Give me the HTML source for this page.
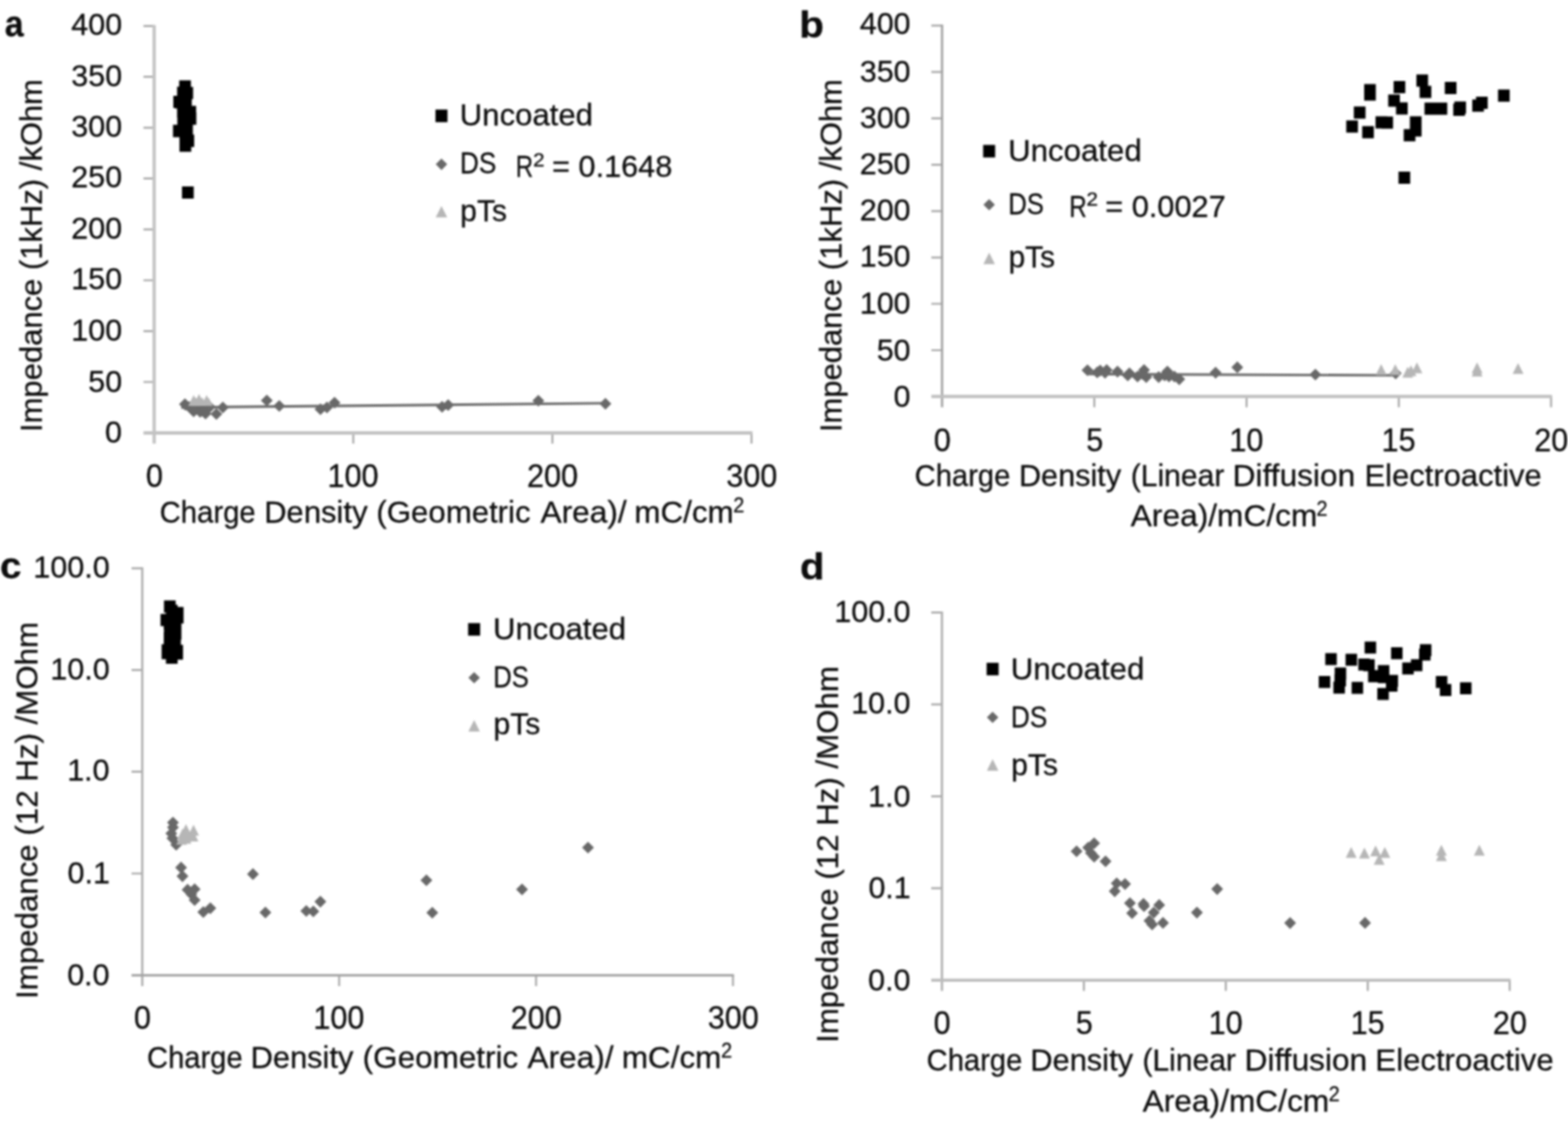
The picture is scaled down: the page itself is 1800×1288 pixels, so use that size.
<!DOCTYPE html>
<html lang="en">
<head>
<meta charset="utf-8">
<title>Impedance versus charge density</title>
<style>
html,body{margin:0;padding:0;background:#fff;}
body{width:1800px;height:1288px;overflow:hidden;}
svg{display:block;}
svg text{font-family:"Liberation Sans",sans-serif;fill:#0c0c0c;stroke:#0c0c0c;stroke-width:0.3px;stroke-linejoin:round;}
</style>
</head>
<body>
<svg width="1800" height="1288" viewBox="0 0 1800 1288">
<rect width="1800" height="1288" fill="#fff"/>
<g id="fig" style="filter:blur(0.95px)">
<g id="panel-a">
<path d="M164.7 29.8H177M164.7 88.19H177M164.7 146.57H177M164.7 204.96H177M164.7 263.35H177M164.7 321.74H177M164.7 380.12H177M164.7 438.51H177M405.57 496.9V509.2M634.13 496.9V509.2M862.7 496.9V509.2" stroke="#a6a6a6" stroke-width="2.2" fill="none"/>
<path d="M177 28.7V509.2" stroke="#c4c4c4" stroke-width="3.8" fill="none"/>
<path d="M164.7 496.9H863.8" stroke="#c2c2c2" stroke-width="4.0" fill="none"/>
<text x="5.59" y="42.2" font-size="42" textLength="21.57" lengthAdjust="spacingAndGlyphs" font-weight="bold">a</text>
<text x="81.75" y="39.8" font-size="35" textLength="58.4" lengthAdjust="spacingAndGlyphs">400</text>
<text x="81.75" y="99.05" font-size="35" textLength="58.4" lengthAdjust="spacingAndGlyphs">350</text>
<text x="81.75" y="157.3" font-size="35" textLength="58.4" lengthAdjust="spacingAndGlyphs">300</text>
<text x="81.75" y="215.3" font-size="35" textLength="58.4" lengthAdjust="spacingAndGlyphs">250</text>
<text x="81.75" y="274.05" font-size="35" textLength="58.4" lengthAdjust="spacingAndGlyphs">200</text>
<text x="81.75" y="332.3" font-size="35" textLength="58.4" lengthAdjust="spacingAndGlyphs">150</text>
<text x="81.75" y="391.05" font-size="35" textLength="58.4" lengthAdjust="spacingAndGlyphs">100</text>
<text x="101.18" y="449.8" font-size="35" textLength="38.93" lengthAdjust="spacingAndGlyphs">50</text>
<text x="120.6" y="508.05" font-size="35" textLength="19.47" lengthAdjust="spacingAndGlyphs">0</text>
<text x="167.56" y="559.1" font-size="36.8" textLength="19.55" lengthAdjust="spacingAndGlyphs">0</text>
<text x="376.01" y="559.1" font-size="36.8" textLength="58.64" lengthAdjust="spacingAndGlyphs">100</text>
<text x="605.01" y="559.1" font-size="36.8" textLength="58.64" lengthAdjust="spacingAndGlyphs">200</text>
<text x="833.75" y="559.1" font-size="36.8" textLength="58.64" lengthAdjust="spacingAndGlyphs">300</text>
<text font-size="35"><tspan x="183.32" y="600" textLength="110.19" lengthAdjust="spacingAndGlyphs">Charge</tspan> <tspan x="303.15" y="600" textLength="118.83" lengthAdjust="spacingAndGlyphs">Density</tspan> <tspan x="432.1" y="600" textLength="177.06" lengthAdjust="spacingAndGlyphs">(Geometric</tspan> <tspan x="620.5" y="600" textLength="98.94" lengthAdjust="spacingAndGlyphs">Area)/</tspan> <tspan x="728.16" y="600" textLength="114.04" lengthAdjust="spacingAndGlyphs">mC/cm</tspan><tspan x="841.86" y="587.6" font-size="23.5" textLength="12.71" lengthAdjust="spacingAndGlyphs">2</tspan></text>
<text transform="translate(48.3 495.9) rotate(-90)" font-size="35.5" textLength="405.13" lengthAdjust="spacingAndGlyphs">Impedance (1kHz) /kOhm</text>
<path d="M499.9 125.8h13.8v14.4h-13.8z" fill="#000"/>
<path d="M506.8 182l6.6 6.6l-6.6 6.6l-6.6 -6.6z" fill="#686868"/>
<path d="M506.8 236.4l6.6 13.2h-13.2z" fill="#b6b6b6"/>
<text x="527.77" y="143.8" font-size="35" textLength="152.88" lengthAdjust="spacingAndGlyphs">Uncoated</text>
<text x="528.05" y="199.3" font-size="35" textLength="41.68" lengthAdjust="spacingAndGlyphs">DS</text>
<text x="528.2" y="253.8" font-size="35" textLength="53.8" lengthAdjust="spacingAndGlyphs">pTs</text>
<text font-size="35"><tspan x="591.98" y="203.2" textLength="20.03" lengthAdjust="spacingAndGlyphs">R</tspan><tspan x="612.03" y="190.9" font-size="22" textLength="13.2" lengthAdjust="spacingAndGlyphs">2</tspan> <tspan x="633.74" y="203.2" textLength="137.98" lengthAdjust="spacingAndGlyphs">= 0.1648</tspan></text>
</g>
<g id="panel-b">
<path d="M1069.15 29.45H1081.45M1069.15 82.67H1081.45M1069.15 135.89H1081.45M1069.15 189.11H1081.45M1069.15 242.32H1081.45M1069.15 295.54H1081.45M1069.15 348.76H1081.45M1069.15 401.98H1081.45M1256.23 455.2V467.5M1431.01 455.2V467.5M1605.78 455.2V467.5M1780.56 455.2V467.5" stroke="#a6a6a6" stroke-width="2.2" fill="none"/>
<path d="M1081.45 28.35V467.5" stroke="#9e9e9e" stroke-width="2.5" fill="none"/>
<path d="M1069.15 455.2H1781.66" stroke="#c0c0c0" stroke-width="3.8" fill="none"/>
<text x="917.48" y="42.6" font-size="42" textLength="28.43" lengthAdjust="spacingAndGlyphs" font-weight="bold">b</text>
<text x="986.95" y="39.3" font-size="35" textLength="58.4" lengthAdjust="spacingAndGlyphs">400</text>
<text x="986.95" y="93.8" font-size="35" textLength="58.4" lengthAdjust="spacingAndGlyphs">350</text>
<text x="986.95" y="146.8" font-size="35" textLength="58.4" lengthAdjust="spacingAndGlyphs">300</text>
<text x="986.95" y="200.05" font-size="35" textLength="58.4" lengthAdjust="spacingAndGlyphs">250</text>
<text x="986.95" y="253.05" font-size="35" textLength="58.4" lengthAdjust="spacingAndGlyphs">200</text>
<text x="986.95" y="306.3" font-size="35" textLength="58.4" lengthAdjust="spacingAndGlyphs">150</text>
<text x="986.95" y="360.05" font-size="35" textLength="58.4" lengthAdjust="spacingAndGlyphs">100</text>
<text x="1006.38" y="414.3" font-size="35" textLength="38.93" lengthAdjust="spacingAndGlyphs">50</text>
<text x="1025.8" y="466.8" font-size="35" textLength="19.47" lengthAdjust="spacingAndGlyphs">0</text>
<text x="1072.01" y="517.6" font-size="36.8" textLength="19.55" lengthAdjust="spacingAndGlyphs">0</text>
<text x="1246.88" y="517.6" font-size="36.8" textLength="19.55" lengthAdjust="spacingAndGlyphs">5</text>
<text x="1411.2" y="517.6" font-size="36.8" textLength="39.09" lengthAdjust="spacingAndGlyphs">10</text>
<text x="1586.06" y="517.6" font-size="36.8" textLength="39.09" lengthAdjust="spacingAndGlyphs">15</text>
<text x="1761.19" y="517.6" font-size="36.8" textLength="39.09" lengthAdjust="spacingAndGlyphs">20</text>
<text font-size="35"><tspan x="1050.08" y="557.5" textLength="109.67" lengthAdjust="spacingAndGlyphs">Charge</tspan> <tspan x="1169.69" y="557.5" textLength="117.3" lengthAdjust="spacingAndGlyphs">Density</tspan> <tspan x="1297.92" y="557.5" textLength="107.7" lengthAdjust="spacingAndGlyphs">(Linear</tspan> <tspan x="1415.1" y="557.5" textLength="140.61" lengthAdjust="spacingAndGlyphs">Diffusion</tspan> <tspan x="1566.41" y="557.5" textLength="203.43" lengthAdjust="spacingAndGlyphs">Electroactive</tspan></text>
<text font-size="35"><tspan x="1298" y="604.2" textLength="214.34" lengthAdjust="spacingAndGlyphs">Area)/mC/cm</tspan><tspan x="1511.36" y="591.8" font-size="23.5" textLength="12.71" lengthAdjust="spacingAndGlyphs">2</tspan></text>
<text transform="translate(966.2 496.1) rotate(-90)" font-size="35.5" textLength="405.34" lengthAdjust="spacingAndGlyphs">Impedance (1kHz) /kOhm</text>
<path d="M1128.6 166.35h13.8v14.4h-13.8z" fill="#000"/>
<path d="M1135.5 228.4l6.6 6.6l-6.6 6.6l-6.6 -6.6z" fill="#686868"/>
<path d="M1135.5 290.1l6.6 13.2h-13.2z" fill="#b6b6b6"/>
<text x="1157.26" y="185" font-size="35" textLength="153.4" lengthAdjust="spacingAndGlyphs">Uncoated</text>
<text x="1157.6" y="246.2" font-size="35" textLength="40.85" lengthAdjust="spacingAndGlyphs">DS</text>
<text x="1157.71" y="307" font-size="35" textLength="53.53" lengthAdjust="spacingAndGlyphs">pTs</text>
<text font-size="35"><tspan x="1227.58" y="248.6" textLength="20.03" lengthAdjust="spacingAndGlyphs">R</tspan><tspan x="1247.39" y="236.3" font-size="22" textLength="13.2" lengthAdjust="spacingAndGlyphs">2</tspan> <tspan x="1268.74" y="248.6" textLength="138.35" lengthAdjust="spacingAndGlyphs">= 0.0027</tspan></text>
</g>
<g id="panel-c">
<path d="M151 652.3H163.3M151 769.12H163.3M151 885.95H163.3M151 1002.77H163.3M389.35 1119.6V1131.9M615.4 1119.6V1131.9M841.45 1119.6V1131.9" stroke="#a6a6a6" stroke-width="2.2" fill="none"/>
<path d="M163.3 651.2V1131.9" stroke="#aaaaaa" stroke-width="2.4" fill="none"/>
<path d="M151 1119.6H842.55" stroke="#a2a2a2" stroke-width="2.6" fill="none"/>
<text x="-0.02" y="663.8" font-size="42" textLength="24.66" lengthAdjust="spacingAndGlyphs" font-weight="bold">c</text>
<text x="38.33" y="662.6" font-size="35" textLength="87.59" lengthAdjust="spacingAndGlyphs">100.0</text>
<text x="57.75" y="779.7" font-size="35" textLength="68.12" lengthAdjust="spacingAndGlyphs">10.0</text>
<text x="77.17" y="896.2" font-size="35" textLength="48.66" lengthAdjust="spacingAndGlyphs">1.0</text>
<text x="77.53" y="1013.5" font-size="35" textLength="48.66" lengthAdjust="spacingAndGlyphs">0.1</text>
<text x="77.17" y="1130.8" font-size="35" textLength="48.66" lengthAdjust="spacingAndGlyphs">0.0</text>
<text x="153.86" y="1181.3" font-size="36.8" textLength="19.55" lengthAdjust="spacingAndGlyphs">0</text>
<text x="359.79" y="1181.3" font-size="36.8" textLength="58.64" lengthAdjust="spacingAndGlyphs">100</text>
<text x="586.28" y="1181.3" font-size="36.8" textLength="58.64" lengthAdjust="spacingAndGlyphs">200</text>
<text x="812.5" y="1181.3" font-size="36.8" textLength="58.64" lengthAdjust="spacingAndGlyphs">300</text>
<text font-size="35"><tspan x="168.83" y="1226.3" textLength="109.67" lengthAdjust="spacingAndGlyphs">Charge</tspan> <tspan x="287.67" y="1226.3" textLength="118.07" lengthAdjust="spacingAndGlyphs">Density</tspan> <tspan x="416.33" y="1226.3" textLength="178.59" lengthAdjust="spacingAndGlyphs">(Geometric</tspan> <tspan x="605.5" y="1226.3" textLength="98.94" lengthAdjust="spacingAndGlyphs">Area)/</tspan> <tspan x="713.65" y="1226.3" textLength="114.56" lengthAdjust="spacingAndGlyphs">mC/cm</tspan><tspan x="827.86" y="1213.9" font-size="23.5" textLength="12.71" lengthAdjust="spacingAndGlyphs">2</tspan></text>
<text transform="translate(42.6 1146.73) rotate(-90)" font-size="35.5" textLength="432.76" lengthAdjust="spacingAndGlyphs">Impedance (12 Hz) /MOhm</text>
<path d="M537.4 715.3h13.8v14.4h-13.8z" fill="#000"/>
<path d="M544.3 771.4l6.6 6.6l-6.6 6.6l-6.6 -6.6z" fill="#686868"/>
<path d="M544.3 826.6l6.6 13.2h-13.2z" fill="#b6b6b6"/>
<text x="566.03" y="734.3" font-size="35" textLength="152.62" lengthAdjust="spacingAndGlyphs">Uncoated</text>
<text x="566.35" y="788.9" font-size="35" textLength="40.85" lengthAdjust="spacingAndGlyphs">DS</text>
<text x="566.45" y="843.3" font-size="35" textLength="53.8" lengthAdjust="spacingAndGlyphs">pTs</text>
</g>
<g id="panel-d">
<path d="M1069 703.2H1081.3M1069 808.7H1081.3M1069 914.2H1081.3M1069 1019.7H1081.3M1244.24 1125.2V1137.5M1407.18 1125.2V1137.5M1570.13 1125.2V1137.5M1733.07 1125.2V1137.5" stroke="#a6a6a6" stroke-width="2.2" fill="none"/>
<path d="M1081.3 702.1V1137.5" stroke="#aaaaaa" stroke-width="2.4" fill="none"/>
<path d="M1069 1125.2H1734.17" stroke="#bcbcbc" stroke-width="3.5" fill="none"/>
<text x="918.16" y="664.8" font-size="42" textLength="28.12" lengthAdjust="spacingAndGlyphs" font-weight="bold">d</text>
<text x="957.73" y="714.35" font-size="35" textLength="87.59" lengthAdjust="spacingAndGlyphs">100.0</text>
<text x="977.15" y="819.35" font-size="35" textLength="68.12" lengthAdjust="spacingAndGlyphs">10.0</text>
<text x="996.58" y="925.6" font-size="35" textLength="48.66" lengthAdjust="spacingAndGlyphs">1.0</text>
<text x="996.92" y="1031.35" font-size="35" textLength="48.66" lengthAdjust="spacingAndGlyphs">0.1</text>
<text x="996.58" y="1137.1" font-size="35" textLength="48.66" lengthAdjust="spacingAndGlyphs">0.0</text>
<text x="1071.86" y="1187.3" font-size="36.8" textLength="19.55" lengthAdjust="spacingAndGlyphs">0</text>
<text x="1234.89" y="1187.3" font-size="36.8" textLength="19.55" lengthAdjust="spacingAndGlyphs">5</text>
<text x="1387.38" y="1187.3" font-size="36.8" textLength="39.09" lengthAdjust="spacingAndGlyphs">10</text>
<text x="1550.41" y="1187.3" font-size="36.8" textLength="39.09" lengthAdjust="spacingAndGlyphs">15</text>
<text x="1713.7" y="1187.3" font-size="36.8" textLength="39.09" lengthAdjust="spacingAndGlyphs">20</text>
<text font-size="35"><tspan x="1063.83" y="1228.5" textLength="109.67" lengthAdjust="spacingAndGlyphs">Charge</tspan> <tspan x="1182.67" y="1228.5" textLength="118.07" lengthAdjust="spacingAndGlyphs">Density</tspan> <tspan x="1311.43" y="1228.5" textLength="107.44" lengthAdjust="spacingAndGlyphs">(Linear</tspan> <tspan x="1428.85" y="1228.5" textLength="140.61" lengthAdjust="spacingAndGlyphs">Diffusion</tspan> <tspan x="1578.89" y="1228.5" textLength="204.71" lengthAdjust="spacingAndGlyphs">Electroactive</tspan></text>
<text font-size="35"><tspan x="1311.75" y="1276.3" textLength="214.09" lengthAdjust="spacingAndGlyphs">Area)/mC/cm</tspan><tspan x="1525.36" y="1263.9" font-size="23.5" textLength="12.71" lengthAdjust="spacingAndGlyphs">2</tspan></text>
<text transform="translate(961.8 1197.33) rotate(-90)" font-size="35.5" textLength="432.66" lengthAdjust="spacingAndGlyphs">Impedance (12 Hz) /MOhm</text>
<path d="M1132.6 760.85h13.8v14.4h-13.8z" fill="#000"/>
<path d="M1139.5 816.9l6.6 6.6l-6.6 6.6l-6.6 -6.6z" fill="#686868"/>
<path d="M1139.5 871.6l6.6 13.2h-13.2z" fill="#b6b6b6"/>
<text x="1160.26" y="780" font-size="35" textLength="153.4" lengthAdjust="spacingAndGlyphs">Uncoated</text>
<text x="1160.55" y="835" font-size="35" textLength="41.68" lengthAdjust="spacingAndGlyphs">DS</text>
<text x="1160.7" y="890" font-size="35" textLength="53.8" lengthAdjust="spacingAndGlyphs">pTs</text>
</g>
<g id="data">
<path d="M1565.98 96.45h13.4v14h-13.4zM1565.98 101.43h13.4v14h-13.4zM1599.83 92.97h13.4v14h-13.4zM1625.97 85.5h13.4v14h-13.4zM1629.7 98.57h13.4v14h-13.4zM1658.57 93.96h13.4v14h-13.4zM1719.67 102.67h13.4v14h-13.4zM1593.61 108.52h13.4v14h-13.4zM1602.57 117.48h13.4v14h-13.4zM1554.16 122.21h13.4v14h-13.4zM1545.45 138.14h13.4v14h-13.4zM1563.74 144.86h13.4v14h-13.4zM1579.05 133.41h13.4v14h-13.4zM1585.77 133.78h13.4v14h-13.4zM1618.5 133.41h13.4v14h-13.4zM1618.5 142.74h13.4v14h-13.4zM1611.41 148.34h13.4v14h-13.4zM1635.3 117.86h13.4v14h-13.4zM1647.99 117.86h13.4v14h-13.4zM1668.28 119.1h13.4v14h-13.4zM1669.52 116.61h13.4v14h-13.4zM1690.06 114.37h13.4v14h-13.4zM1694.41 111.01h13.4v14h-13.4zM1605.43 196.88h13.4v14h-13.4z" fill="#000"/>
<path d="M205.68 92.34h13.5v14.1h-13.5zM205.43 99.81h13.5v14.1h-13.5zM206.05 104.16h13.5v14.1h-13.5zM201.07 110.38h13.5v14.1h-13.5zM204.18 114.12h13.5v14.1h-13.5zM206.67 110.38h13.5v14.1h-13.5zM203.31 99.43h13.5v14.1h-13.5zM208.17 99.68h13.5v14.1h-13.5zM198.96 110.01h13.5v14.1h-13.5zM203.31 120.96h13.5v14.1h-13.5zM211.65 121.58h13.5v14.1h-13.5zM207.92 126.56h13.5v14.1h-13.5zM211.9 129.05h13.5v14.1h-13.5zM203.56 129.05h13.5v14.1h-13.5zM198.58 143.36h13.5v14.1h-13.5zM207.92 142.74h13.5v14.1h-13.5zM206.05 147.72h13.5v14.1h-13.5zM209.41 154.56h13.5v14.1h-13.5zM206.05 160.16h13.5v14.1h-13.5zM208.91 213.92h13.5v14.1h-13.5z" fill="#000"/>
<path d="M1248.37 418.2l6.8 6.8l-6.8 6.8l-6.8 -6.8zM1259.57 420.69l6.8 6.8l-6.8 6.8l-6.8 -6.8zM1262.93 418.58l6.8 6.8l-6.8 6.8l-6.8 -6.8zM1270.4 417.96l6.8 6.8l-6.8 6.8l-6.8 -6.8zM1268.53 421.07l6.8 6.8l-6.8 6.8l-6.8 -6.8zM1282.84 419.82l6.8 6.8l-6.8 6.8l-6.8 -6.8zM1296.53 421.69l6.8 6.8l-6.8 6.8l-6.8 -6.8zM1294.67 424.18l6.8 6.8l-6.8 6.8l-6.8 -6.8zM1305.87 425.42l6.8 6.8l-6.8 6.8l-6.8 -6.8zM1313.33 417.96l6.8 6.8l-6.8 6.8l-6.8 -6.8zM1311.47 422.31l6.8 6.8l-6.8 6.8l-6.8 -6.8zM1315.82 426.04l6.8 6.8l-6.8 6.8l-6.8 -6.8zM1330.13 426.04l6.8 6.8l-6.8 6.8l-6.8 -6.8zM1340.09 419.82l6.8 6.8l-6.8 6.8l-6.8 -6.8zM1341.96 425.42l6.8 6.8l-6.8 6.8l-6.8 -6.8zM1336.98 424.18l6.8 6.8l-6.8 6.8l-6.8 -6.8zM1353.78 428.53l6.8 6.8l-6.8 6.8l-6.8 -6.8zM1348.18 425.42l6.8 6.8l-6.8 6.8l-6.8 -6.8zM1395.47 421.07l6.8 6.8l-6.8 6.8l-6.8 -6.8zM1420.36 414.84l6.8 6.8l-6.8 6.8l-6.8 -6.8zM1510 423.2l6.8 6.8l-6.8 6.8l-6.8 -6.8zM1602.2 421.8l6.8 6.8l-6.8 6.8l-6.8 -6.8z" fill="#686868"/>
<path d="M1248 429.4L1602 430.9" stroke="#6a6a6a" stroke-width="2.9" fill="none"/>
<path d="M1585.51 417.88l6.25 12.5h-12.5zM1601.69 417.88l6.25 12.5h-12.5zM1616 420.99l6.25 12.5h-12.5zM1619.73 419.13l6.25 12.5h-12.5zM1626.58 416.02l6.25 12.5h-12.5zM1695.64 416.02l6.25 12.5h-12.5zM1695.64 419.75l6.25 12.5h-12.5zM1742.68 416.64l6.25 12.5h-12.5z" fill="#b6b6b6"/>
<path d="M212.31 457.29l6.8 6.8l-6.8 6.8l-6.8 -6.8zM222.27 465.38l6.8 6.8l-6.8 6.8l-6.8 -6.8zM229.73 466l6.8 6.8l-6.8 6.8l-6.8 -6.8zM235.96 467.87l6.8 6.8l-6.8 6.8l-6.8 -6.8zM240.93 460.4l6.8 6.8l-6.8 6.8l-6.8 -6.8zM248.4 468.49l6.8 6.8l-6.8 6.8l-6.8 -6.8zM255.87 461.02l6.8 6.8l-6.8 6.8l-6.8 -6.8zM306.27 452.93l6.8 6.8l-6.8 6.8l-6.8 -6.8zM320.58 459.16l6.8 6.8l-6.8 6.8l-6.8 -6.8zM367.87 462.89l6.8 6.8l-6.8 6.8l-6.8 -6.8zM375.33 461.02l6.8 6.8l-6.8 6.8l-6.8 -6.8zM384.04 455.42l6.8 6.8l-6.8 6.8l-6.8 -6.8zM217.29 460.4l6.8 6.8l-6.8 6.8l-6.8 -6.8zM226 461.02l6.8 6.8l-6.8 6.8l-6.8 -6.8zM233.47 461.64l6.8 6.8l-6.8 6.8l-6.8 -6.8zM507.5 460.2l6.8 6.8l-6.8 6.8l-6.8 -6.8zM514.5 458.2l6.8 6.8l-6.8 6.8l-6.8 -6.8zM618 453.2l6.8 6.8l-6.8 6.8l-6.8 -6.8zM695 456.7l6.8 6.8l-6.8 6.8l-6.8 -6.8z" fill="#686868"/>
<path d="M222.27 453.48l6.25 12.5h-12.5zM228.49 452.24l6.25 12.5h-12.5zM237.2 453.48l6.25 12.5h-12.5zM232.22 455.97l6.25 12.5h-12.5zM224.76 455.97l6.25 12.5h-12.5zM239.69 456.59l6.25 12.5h-12.5z" fill="#b6b6b6"/>
<path d="M208 467.7L695 462.9" stroke="#6a6a6a" stroke-width="2.9" fill="none"/>
<path d="M1566.53 736.51h13.2v13.8h-13.2zM1596.89 742.98h13.2v13.8h-13.2zM1630 739.49h13.2v13.8h-13.2zM1629 744.47h13.2v13.8h-13.2zM1521.36 749.82h13.2v13.8h-13.2zM1544.63 750.44h13.2v13.8h-13.2zM1559.31 756.04h13.2v13.8h-13.2zM1564.91 756.67h13.2v13.8h-13.2zM1581.71 763.51h13.2v13.8h-13.2zM1570.51 769.36h13.2v13.8h-13.2zM1581.71 770.36h13.2v13.8h-13.2zM1591.67 774.71h13.2v13.8h-13.2zM1591.04 780.31h13.2v13.8h-13.2zM1581.09 789.64h13.2v13.8h-13.2zM1609.71 760.4h13.2v13.8h-13.2zM1619.67 756.67h13.2v13.8h-13.2zM1532.18 766.37h13.2v13.8h-13.2zM1531.93 774.09h13.2v13.8h-13.2zM1530.69 782.55h13.2v13.8h-13.2zM1513.89 775.96h13.2v13.8h-13.2zM1551.6 782.8h13.2v13.8h-13.2zM1648.29 775.96h13.2v13.8h-13.2zM1652.89 785.29h13.2v13.8h-13.2zM1676.04 783.17h13.2v13.8h-13.2z" fill="#000"/>
<path d="M188.26 689.19h13.4v14h-13.4zM190.5 694.17h13.4v14h-13.4zM197.34 696.66h13.4v14h-13.4zM197.34 701.63h13.4v14h-13.4zM184.28 704.74h13.4v14h-13.4zM188.01 709.1h13.4v14h-13.4zM194.86 711.59h13.4v14h-13.4zM188.26 717.81h13.4v14h-13.4zM194.86 720.3h13.4v14h-13.4zM188.01 725.28h13.4v14h-13.4zM194.23 729.01h13.4v14h-13.4zM188.26 733.99h13.4v14h-13.4zM185.52 739.59h13.4v14h-13.4zM196.72 740.21h13.4v14h-13.4zM185.52 742.7h13.4v14h-13.4zM196.72 743.32h13.4v14h-13.4zM190.5 747.93h13.4v14h-13.4z" fill="#000"/>
<path d="M1235.88 970.49l6.8 6.8l-6.8 6.8l-6.8 -6.8zM1256.04 961.16l6.8 6.8l-6.8 6.8l-6.8 -6.8zM1249.2 966.13l6.8 6.8l-6.8 6.8l-6.8 -6.8zM1252.31 972.36l6.8 6.8l-6.8 6.8l-6.8 -6.8zM1256.04 976.71l6.8 6.8l-6.8 6.8l-6.8 -6.8zM1269.11 981.94l6.8 6.8l-6.8 6.8l-6.8 -6.8zM1281.93 1007.2l6.8 6.8l-6.8 6.8l-6.8 -6.8zM1291.51 1008.07l6.8 6.8l-6.8 6.8l-6.8 -6.8zM1279.69 1016.28l6.8 6.8l-6.8 6.8l-6.8 -6.8zM1297.11 1029.97l6.8 6.8l-6.8 6.8l-6.8 -6.8zM1299.6 1041.42l6.8 6.8l-6.8 6.8l-6.8 -6.8zM1312.67 1030.84l6.8 6.8l-6.8 6.8l-6.8 -6.8zM1313.29 1033.33l6.8 6.8l-6.8 6.8l-6.8 -6.8zM1330.71 1032.09l6.8 6.8l-6.8 6.8l-6.8 -6.8zM1324.49 1040.8l6.8 6.8l-6.8 6.8l-6.8 -6.8zM1319.51 1050.13l6.8 6.8l-6.8 6.8l-6.8 -6.8zM1322.62 1054.49l6.8 6.8l-6.8 6.8l-6.8 -6.8zM1335.07 1052.62l6.8 6.8l-6.8 6.8l-6.8 -6.8zM1374.02 1040.8l6.8 6.8l-6.8 6.8l-6.8 -6.8zM1397.29 1013.8l6.8 6.8l-6.8 6.8l-6.8 -6.8zM1481 1052.8l6.8 6.8l-6.8 6.8l-6.8 -6.8zM1567 1052.6l6.8 6.8l-6.8 6.8l-6.8 -6.8z" fill="#686868"/>
<path d="M1551.11 972.28l6.25 12.5h-12.5zM1566.29 972.91l6.25 12.5h-12.5zM1579.11 970.42l6.25 12.5h-12.5zM1589.69 972.28l6.25 12.5h-12.5zM1583.22 980.37l6.25 12.5h-12.5zM1654.65 969.79l6.25 12.5h-12.5zM1654.65 976.02l6.25 12.5h-12.5zM1698.2 969.79l6.25 12.5h-12.5z" fill="#b6b6b6"/>
<path d="M198.53 937.47l6.8 6.8l-6.8 6.8l-6.8 -6.8zM198.53 943.07l6.8 6.8l-6.8 6.8l-6.8 -6.8zM196.67 949.91l6.8 6.8l-6.8 6.8l-6.8 -6.8zM197.91 955.51l6.8 6.8l-6.8 6.8l-6.8 -6.8zM202.27 962.98l6.8 6.8l-6.8 6.8l-6.8 -6.8zM207.87 989.11l6.8 6.8l-6.8 6.8l-6.8 -6.8zM209.48 999.07l6.8 6.8l-6.8 6.8l-6.8 -6.8zM215.33 1014.62l6.8 6.8l-6.8 6.8l-6.8 -6.8zM223.42 1014l6.8 6.8l-6.8 6.8l-6.8 -6.8zM219.69 1019.6l6.8 6.8l-6.8 6.8l-6.8 -6.8zM223.42 1026.44l6.8 6.8l-6.8 6.8l-6.8 -6.8zM233.38 1040.13l6.8 6.8l-6.8 6.8l-6.8 -6.8zM241.47 1035.78l6.8 6.8l-6.8 6.8l-6.8 -6.8zM290.37 996.58l6.8 6.8l-6.8 6.8l-6.8 -6.8zM304.68 1040.76l6.8 6.8l-6.8 6.8l-6.8 -6.8zM351.6 1038.89l6.8 6.8l-6.8 6.8l-6.8 -6.8zM359.69 1039.51l6.8 6.8l-6.8 6.8l-6.8 -6.8zM367.78 1028.31l6.8 6.8l-6.8 6.8l-6.8 -6.8zM489.5 1003.7l6.8 6.8l-6.8 6.8l-6.8 -6.8zM496.25 1040.95l6.8 6.8l-6.8 6.8l-6.8 -6.8zM599.25 1014.2l6.8 6.8l-6.8 6.8l-6.8 -6.8zM675 966.2l6.8 6.8l-6.8 6.8l-6.8 -6.8z" fill="#686868"/>
<path d="M213.47 946.11l6.25 12.5h-12.5zM222.18 946.73l6.25 12.5h-12.5zM209.73 951.08l6.25 12.5h-12.5zM219.69 952.33l6.25 12.5h-12.5zM208.49 957.31l6.25 12.5h-12.5zM221.56 953.57l6.25 12.5h-12.5zM215.33 951.08l6.25 12.5h-12.5zM213.47 956.06l6.25 12.5h-12.5z" fill="#b6b6b6"/>
</g>
</g>
</svg>
</body>
</html>
